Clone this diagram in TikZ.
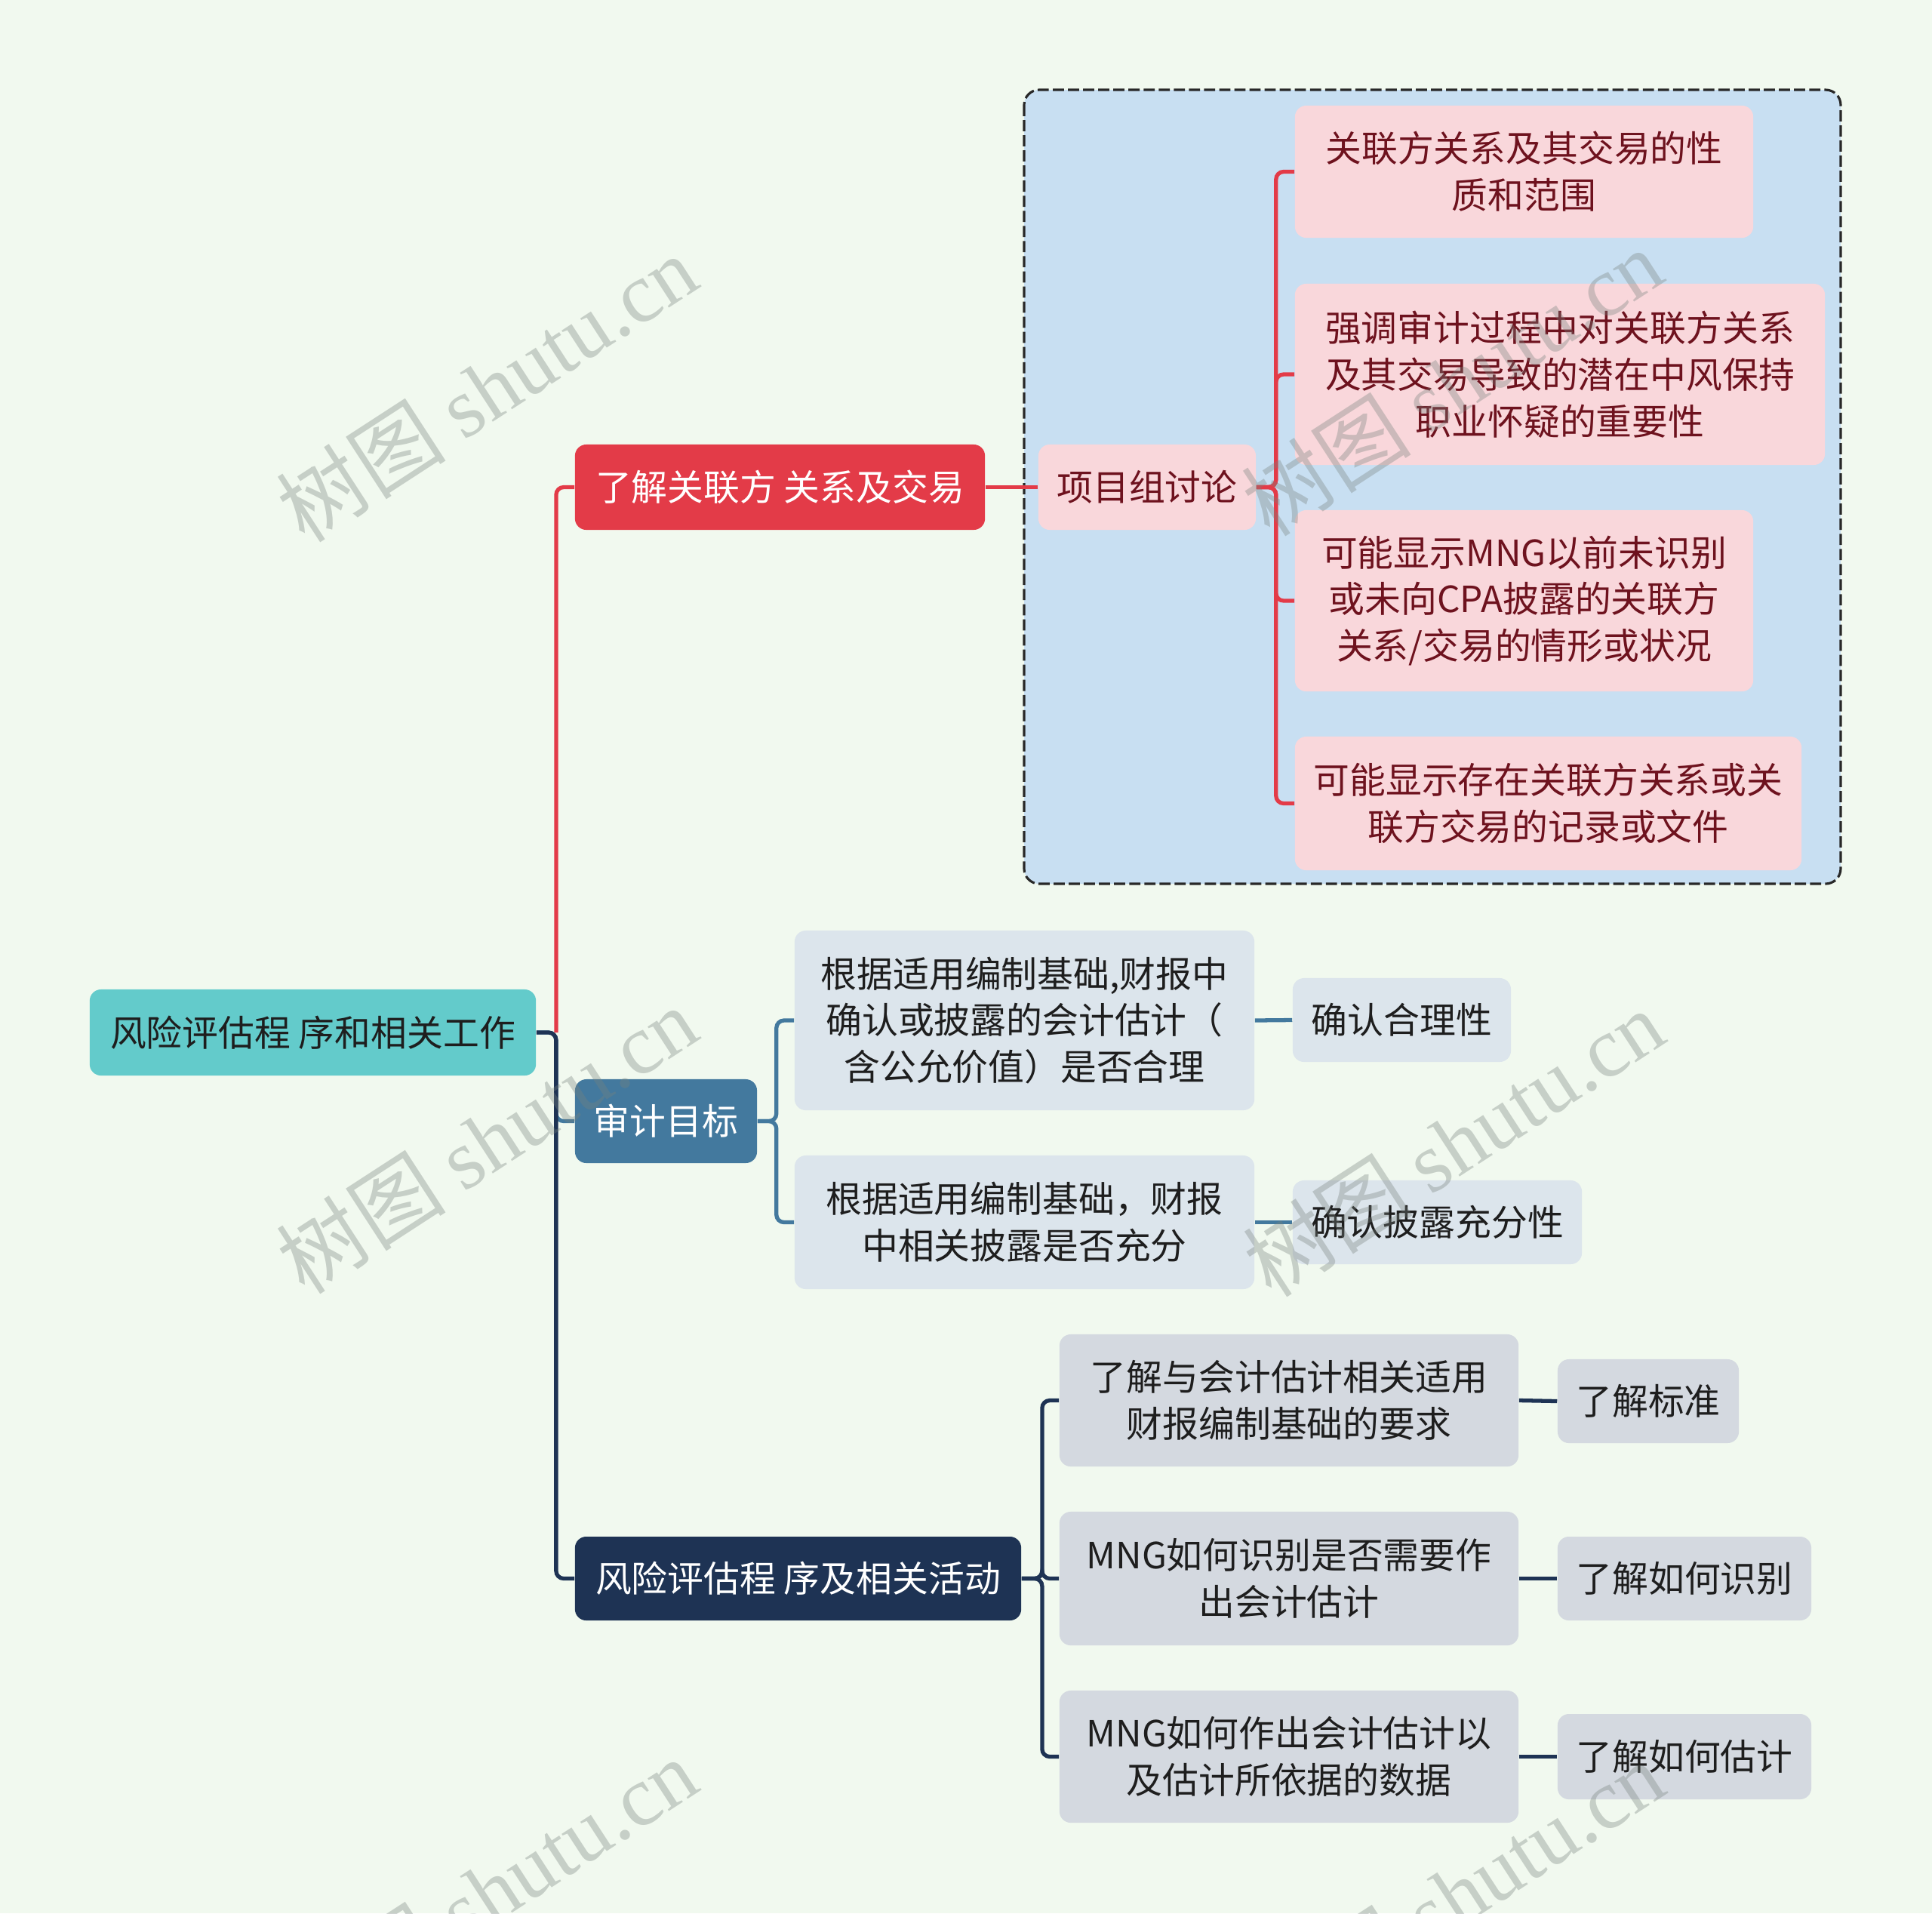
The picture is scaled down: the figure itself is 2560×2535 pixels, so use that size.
\documentclass[tikz,border=0pt]{standalone}
\usepackage{fontspec}
\setmainfont{Noto Sans CJK SC}
\newfontfamily\wmlatin{Liberation Serif}
\newfontfamily\wmcjk{Noto Sans CJK SC}
\definecolor{bgc}{RGB}{241,249,239}
\definecolor{rootc}{RGB}{99,203,203}
\definecolor{redc}{RGB}{227,59,72}
\definecolor{auditc}{RGB}{67,121,158}
\definecolor{riskc}{RGB}{30,51,84}
\definecolor{pinkc}{RGB}{249,215,219}
\definecolor{bluebg}{RGB}{200,223,242}
\definecolor{auditlt}{RGB}{220,229,236}
\definecolor{risklt}{RGB}{212,217,224}
\definecolor{txtdark}{RGB}{30,30,30}
\definecolor{pinktxt}{RGB}{110,18,30}
\definecolor{dashc}{RGB}{40,40,40}
\definecolor{wmc}{RGB}{120,130,125}
\tikzset{
  base/.style={rounded corners=0.15cm, inner sep=0pt, align=center, font=\fontsize{13.6}{17.6}\selectfont},
  rootbox/.style={base, fill=rootc, text=txtdark},
  redbox/.style={base, fill=redc, text=white},
  auditbox/.style={base, fill=auditc, text=white},
  riskbox/.style={base, fill=riskc, text=white},
  pinkbox/.style={base, fill=pinkc, text=pinktxt},
  abox/.style={base, fill=auditlt, text=txtdark},
  rbox/.style={base, fill=risklt, text=txtdark},
  conn/.style={line width=1.5pt, rounded corners=0.1cm},
  wm/.style={text=wmc, text opacity=0.35, font=\fontsize{32}{36}\selectfont, inner sep=0pt}
}
\begin{document}
\begin{tikzpicture}[x=0.01cm,y=-0.01cm]
\fill[bgc] (0,0) rectangle (2560,2535);
\useasboundingbox (0,0) rectangle (2560,2535);

% dashed group
\draw[fill=bluebg, draw=dashc, line width=0.9pt, dash pattern=on 4.2pt off 1.5pt, rounded corners=0.2cm] (1357,119) rectangle (2439,1171);

% nodes
\node[rootbox, minimum width=5.91cm, minimum height=1.14cm] (root) at (414.5,1368) {风险评估程 序和相关工作};
\node[redbox, minimum width=5.43cm, minimum height=1.13cm] (rel) at (1033.5,645.5) {了解关联方 关系及交易};
\node[auditbox, minimum width=2.41cm, minimum height=1.11cm] (aud) at (882.5,1485.5) {审计目标};
\node[riskbox, minimum width=5.91cm, minimum height=1.11cm] (risk) at (1057.5,2091.5) {风险评估程 序及相关活动};

\node[pinkbox, minimum width=2.88cm, minimum height=1.13cm] (proj) at (1520,645.5) {项目组讨论};
\node[pinkbox, minimum width=6.07cm, minimum height=1.75cm] (p1) at (2019.5,227.5) {关联方关系及其交易的性\\质和范围};
\node[pinkbox, minimum width=7.02cm, minimum height=2.40cm] (p2) at (2067,496) {强调审计过程中对关联方关系\\及其交易导致的潜在中风保持\\职业怀疑的重要性};
\node[pinkbox, minimum width=6.07cm, minimum height=2.40cm] (p3) at (2019.5,796) {可能显示MNG以前未识别\\或未向CPA披露的关联方\\关系/交易的情形或状况};
\node[pinkbox, minimum width=6.71cm, minimum height=1.77cm] (p4) at (2051.5,1064.5) {可能显示存在关联方关系或关\\联方交易的记录或文件};

\node[abox, minimum width=6.09cm, minimum height=2.38cm] (a1) at (1357.5,1352) {根据适用编制基础,财报中\\确认或披露的会计估计（\\含公允价值）是否合理};
\node[abox, minimum width=6.09cm, minimum height=1.77cm] (a2) at (1357.5,1619.5) {根据适用编制基础，财报\\中相关披露是否充分};
\node[abox, minimum width=2.89cm, minimum height=1.11cm] (l1) at (1857.5,1351.5) {确认合理性};
\node[abox, minimum width=3.83cm, minimum height=1.11cm] (l2) at (1904.5,1619.5) {确认披露充分性};

\node[rbox, minimum width=6.08cm, minimum height=1.75cm] (r1) at (1708,1855.5) {了解与会计估计相关适用\\财报编制基础的要求};
\node[rbox, minimum width=6.08cm, minimum height=1.77cm] (r2) at (1708,2091.5) {MNG如何识别是否需要作\\出会计估计};
\node[rbox, minimum width=6.08cm, minimum height=1.75cm] (r3) at (1708,2327.5) {MNG如何作出会计估计以\\及估计所依据的数据};
\node[rbox, minimum width=2.40cm, minimum height=1.11cm] (rl1) at (2184,1856.5) {了解标准};
\node[rbox, minimum width=3.36cm, minimum height=1.11cm] (rl2) at (2232,2091.5) {了解如何识别};
\node[rbox, minimum width=3.36cm, minimum height=1.13cm] (rl3) at (2232,2327.5) {了解如何估计};

% connectors from root
\draw[conn, auditc] (root.east) -- ++(26,0) |- (aud.west);
\draw[conn, riskc] (root.east) -- ++(26,0) |- (risk.west);
\draw[conn, redc] ([xshift=0.26cm]root.east) |- (rel.west);

% related party branch
\draw[conn, redc] (rel.east) -- (proj.west);
\foreach \c in {p1,p2,p3,p4}{
  \draw[conn, redc] (proj.east) -- ++(26,0) |- (\c.west);
}

% audit branch
\foreach \c in {a1,a2}{
  \draw[conn, auditc] (aud.east) -- ++(25,0) |- (\c.west);
}
\draw[conn, auditc] (a1.east) -- (l1.west);
\draw[conn, auditc] (a2.east) -- (l2.west);

% risk branch
\foreach \c in {r1,r2,r3}{
  \draw[conn, riskc] (risk.east) -- ++(27,0) |- (\c.west);
}
\draw[conn, riskc] (r1.east) -- (rl1.west);
\draw[conn, riskc] (r2.east) -- (rl2.west);
\draw[conn, riskc] (r3.east) -- (rl3.west);

% watermarks
\foreach \n/\x/\y in {w1/645/514, w2/645/1510, w3/1924/506, w4/1926/1514, w5/645/2506, w6/1926/2510}{
  \node[wm, rotate=33] (\n) at (\x,\y) {{\wmcjk 树图} {\wmlatin shutu.cn}};
}
\end{tikzpicture}
\end{document}
